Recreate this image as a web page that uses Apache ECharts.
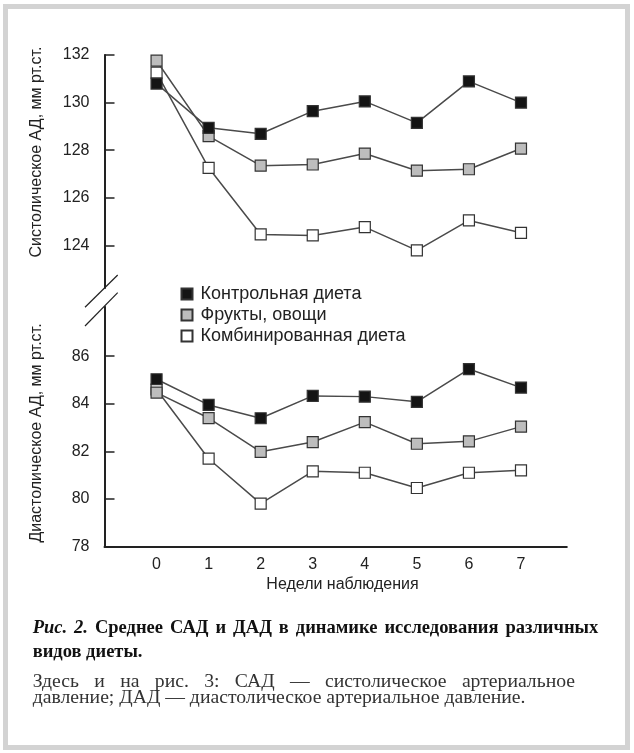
<!DOCTYPE html>
<html><head><meta charset="utf-8">
<script src="https://cdn.jsdelivr.net/npm/echarts@6/dist/echarts.min.js"></script>
<style>html,body{margin:0;padding:0;background:#fff;}#c{width:634px;height:753px;}</style>
</head><body><div id="c"></div>
<script>
// ---- data ----
var weeks = [0, 1, 2, 3, 4, 5, 6, 7];
var seriesNames = ['Контрольная диета', 'Фрукты, овощи', 'Комбинированная диета'];
var sbpControl  = [130.80, 128.94, 128.69, 129.64, 130.05, 129.15, 130.89, 130.00];
var sbpFruit    = [131.76, 128.59, 127.35, 127.40, 127.86, 127.14, 127.20, 128.07];
var sbpCombined = [131.26, 127.26, 124.46, 124.42, 124.77, 123.79, 125.05, 124.53];
var dbpControl  = [85.03, 83.95, 83.39, 84.33, 84.30, 84.08, 85.46, 84.68];
var dbpFruit    = [84.47, 83.40, 81.98, 82.39, 83.23, 82.32, 82.42, 83.04];
var dbpCombined = [84.60, 81.69, 79.80, 81.16, 81.10, 80.46, 81.10, 81.20];
var sbpTicks = [124, 126, 128, 130, 132];
var dbpTicks = [78, 80, 82, 84, 86];
var xTitle = 'Недели наблюдения';
var sbpTitle = 'Систолическое АД, мм рт.ст.';
var dbpTitle = 'Диастолическое АД, мм рт.ст.';
var captionLine1 = ['Рис.', '2.', 'Среднее', 'САД', 'и', 'ДАД', 'в', 'динамике', 'исследования', 'различных'];
var captionLine2 = 'видов диеты.';
var captionLine3 = ['Здесь', 'и', 'на', 'рис.', '3:', 'САД', '—', 'систолическое', 'артериальное'];
var captionLine4 = 'давление; ДАД — диастолическое артериальное давление.';

// ---- styles ----
var fills = ['#141414', '#bdbdbd', '#ffffff'];
var SANS = 'Liberation Sans, Arial, sans-serif';
var SERIF = '"Liberation Serif", "Times New Roman", serif';
var axisColor = '#222';

function pairs(arr) { return arr.map(function (v, i) { return [weeks[i], v]; }); }

function mkSeries(name, idx, data, gi) {
  return {
    type: 'line', name: name, xAxisIndex: gi, yAxisIndex: gi,
    data: pairs(data), symbol: 'rect', symbolSize: 11,
    lineStyle: { color: '#4a4a4a', width: 1.5 },
    itemStyle: { color: fills[idx], borderColor: '#333', borderWidth: 1.2 },
    z: 10 - idx, emphasis: { disabled: true }
  };
}

// justified text layout: spreads words between x0 and x1
var mctx = document.createElement('canvas').getContext('2d');
function justify(words, fonts, x0, x1) {
  var widths = words.map(function (w, i) { mctx.font = fonts[i]; return mctx.measureText(w).width; });
  var total = widths.reduce(function (a, b) { return a + b; }, 0);
  var gap = (x1 - x0 - total) / (words.length - 1);
  var xs = [], x = x0;
  widths.forEach(function (w) { xs.push(x); x += w + gap; });
  return xs;
}

var xMin = -1, xMax = 7.88;
var chart = echarts.init(document.getElementById('c'), null, { renderer: 'canvas' });

var line1Fonts = captionLine1.map(function (w, i) { return (i < 2 ? 'italic ' : '') + 'bold 18.5px ' + SERIF; });
var line3Fonts = captionLine3.map(function () { return '19.7px ' + SERIF; });
var line1X = justify(captionLine1, line1Fonts, 32.7, 598.3);
var line3X = justify(captionLine3, line3Fonts, 32.7, 575);

var graphics = [
  { type: 'rect', shape: { x: 5.5, y: 6.5, width: 622, height: 741 }, style: { fill: 'none', stroke: '#d3d3d3', lineWidth: 5 }, silent: true },
  { type: 'line', shape: { x1: 85, y1: 307.3, x2: 117.7, y2: 275 }, style: { stroke: axisColor, lineWidth: 1.2 } },
  { type: 'line', shape: { x1: 85, y1: 326, x2: 117.7, y2: 292.7 }, style: { stroke: axisColor, lineWidth: 1.2 } },
  { type: 'text', x: 37, y: 152, rotation: Math.PI / 2, style: { text: sbpTitle, font: '16px ' + SANS, fill: axisColor, align: 'center', verticalAlign: 'middle' } },
  { type: 'text', x: 37, y: 433, rotation: Math.PI / 2, style: { text: dbpTitle, font: '16px ' + SANS, fill: axisColor, align: 'center', verticalAlign: 'middle' } },
  { type: 'text', x: 342.5, y: 585, style: { text: xTitle, font: '16px ' + SANS, fill: axisColor, align: 'center', verticalAlign: 'middle' } },
  { type: 'text', x: 32.7, y: 652, style: { text: captionLine2, font: 'bold 18.5px ' + SERIF, fill: '#111', verticalAlign: 'middle' } },
  { type: 'text', x: 32.7, y: 698, style: { text: captionLine4, font: '19.7px ' + SERIF, fill: '#333', verticalAlign: 'middle' } }
];
captionLine1.forEach(function (w, i) {
  graphics.push({ type: 'text', x: line1X[i], y: 628, style: { text: w, font: line1Fonts[i], fill: '#111', verticalAlign: 'middle' } });
});
captionLine3.forEach(function (w, i) {
  graphics.push({ type: 'text', x: line3X[i], y: 682, style: { text: w, font: line3Fonts[i], fill: '#333', verticalAlign: 'middle' } });
});

var option = {
  animation: false,
  backgroundColor: '#fff',
  grid: [
    { left: 104.5, top: 55, width: 462.3, height: 233 },
    { left: 104.5, top: 306.7, width: 462.3, height: 239.8 }
  ],
  xAxis: [
    { type: 'value', gridIndex: 0, min: xMin, max: xMax, show: false },
    { type: 'value', gridIndex: 1, min: xMin, max: xMax,
      axisLine: { show: true, onZero: false, lineStyle: { color: axisColor, width: 2 } },
      axisTick: { show: false }, splitLine: { show: false },
      axisLabel: { customValues: weeks, margin: 10, color: axisColor, fontSize: 16, fontFamily: SANS } }
  ],
  yAxis: [
    { type: 'value', gridIndex: 0, min: 122.21, max: 132,
      axisLine: { show: true, onZero: false, lineStyle: { color: axisColor, width: 2 } },
      axisTick: { show: true, inside: true, length: 10, customValues: sbpTicks, lineStyle: { color: axisColor, width: 1.5 } },
      splitLine: { show: false },
      axisLabel: { customValues: sbpTicks, margin: 15, color: axisColor, fontSize: 16, fontFamily: SANS } },
    { type: 'value', gridIndex: 1, min: 78, max: 88.08,
      axisLine: { show: true, onZero: false, lineStyle: { color: axisColor, width: 2 } },
      axisTick: { show: true, inside: true, length: 10, customValues: dbpTicks, lineStyle: { color: axisColor, width: 1.5 } },
      splitLine: { show: false },
      axisLabel: { customValues: dbpTicks, margin: 15, color: axisColor, fontSize: 16, fontFamily: SANS } }
  ],
  legend: {
    orient: 'vertical', left: 180.5, top: 285, itemGap: 3, padding: 0,
    icon: 'rect', itemWidth: 11, itemHeight: 11,
    data: seriesNames, selectedMode: false,
    textStyle: { color: axisColor, fontSize: 18, fontFamily: SANS, padding: [0, 0, 0, 3] }
  },
  series: [
    mkSeries(seriesNames[2], 2, sbpCombined, 0),
    mkSeries(seriesNames[1], 1, sbpFruit, 0),
    mkSeries(seriesNames[0], 0, sbpControl, 0),
    mkSeries(seriesNames[2], 2, dbpCombined, 1),
    mkSeries(seriesNames[1], 1, dbpFruit, 1),
    mkSeries(seriesNames[0], 0, dbpControl, 1)
  ],
  graphic: graphics
};
chart.setOption(option);
</script></body></html>
